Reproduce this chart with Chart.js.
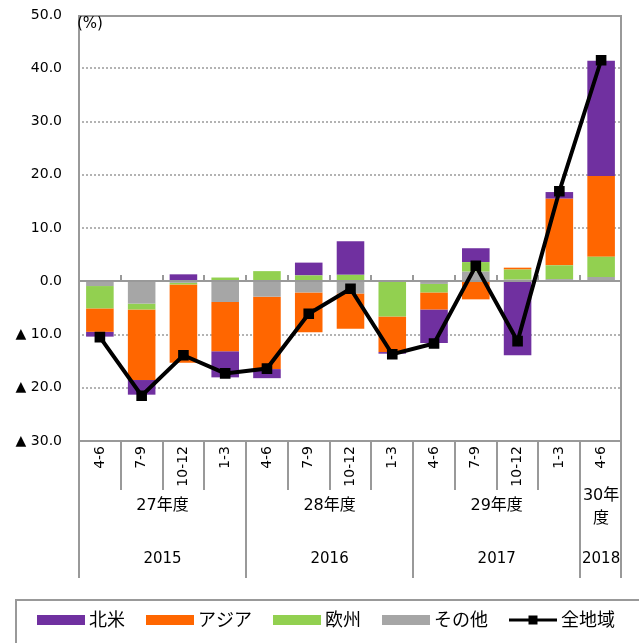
<!DOCTYPE html>
<html>
<head>
<meta charset="utf-8">
<script src="https://cdn.jsdelivr.net/npm/chart.js@4"></script>
<style>
  html, body { margin: 0; padding: 0; background: #ffffff; }
  #wrap { width: 639px; height: 643px; position: relative; }
</style>
</head>
<body>
<div id="wrap"><canvas id="c"></canvas></div>
<script>
// ---- data ----
const quarters = ['4-6', '7-9', '10-12', '1-3', '4-6', '7-9', '10-12', '1-3', '4-6', '7-9', '10-12', '1-3', '4-6'];
const fiscalYears = ['27年度', '28年度', '29年度', '30年度'];
const fiscalSpans = [4, 4, 4, 1];
const calendarYears = ['2015', '2016', '2017', '2018'];

const northAmerica = [-0.9, -2.75, 1.3, -4.9, -1.7, 2.4, 6.3, -0.3, -6.3, 2.6, -13.9, 1.25, 21.65];
const asia         = [-4.4, -13.25, -14.7, -9.25, -13.6, -7.5, -6.6, -6.7, -3.2, -3.4, 0.35, 12.5, 15.15];
const europe       = [-4.2, -1.1, -0.3, 0.7, 1.9, 1.1, 1.2, -6.6, -1.6, 1.8, 1.9, 2.6, 3.8];
const others       = [-0.9, -4.2, -0.3, -3.9, -2.9, -2.1, -2.3, 0, -0.5, 1.8, 0.3, 0.4, 0.8];
const allRegions   = [-10.5, -21.5, -13.9, -17.3, -16.4, -6.1, -1.4, -13.7, -11.7, 2.9, -11.25, 16.9, 41.5];

const yMin = -30, yMax = 50, yStep = 10;
const unitLabel = '(%)';

// ---- styles ----
const NUM_FONT = '"DejaVu Sans", "Noto Sans CJK JP", sans-serif';
const JP_FONT = '"DejaVu Sans", "Noto Sans CJK JP", sans-serif';
const AXIS_COLOR = '#999999';

function boundary(xs, i, n) {
  if (i <= 0) return xs.getPixelForValue(0) - (xs.getPixelForValue(1) - xs.getPixelForValue(0)) / 2;
  if (i >= n) return xs.getPixelForValue(n - 1) + (xs.getPixelForValue(n - 1) - xs.getPixelForValue(n - 2)) / 2;
  return (xs.getPixelForValue(i - 1) + xs.getPixelForValue(i)) / 2;
}

function drawGridLines(chart) {
  const {ctx, chartArea: {left, right}, scales: {y}} = chart;
  ctx.save();
  ctx.strokeStyle = '#b3b3b3';
  ctx.lineWidth = 2;
  ctx.setLineDash([2, 2]);
  for (let v = yMin + yStep; v < yMax; v += yStep) {
    if (v === 0) continue;
    const py = Math.round(y.getPixelForValue(v));
    ctx.beginPath(); ctx.moveTo(left + 3, py); ctx.lineTo(right - 1, py); ctx.stroke();
  }
  ctx.restore();
}

// solid frame segments drawn as filled rectangles (2px thick)
function hBar(ctx, x1, x2, yy) { ctx.fillRect(Math.round(x1), Math.round(yy) - 1, Math.round(x2 - x1), 2); }
function vBar(ctx, xx, y1, y2) { ctx.fillRect(Math.round(xx) - 1, Math.round(y1), 2, Math.round(y2 - y1)); }

const framePlugin = {
  id: 'framePlugin',
  beforeDatasetsDraw(chart) { drawGridLines(chart); },
  beforeDatasetDraw(chart, args) {
    if (args.meta.type !== 'line') return;
    const {ctx, chartArea: {left, right, top, bottom}, scales: {x, y}} = chart;
    const n = quarters.length;
    const y0 = y.getPixelForValue(0);
    const groupBottom = bottom + 137;
    ctx.save();
    ctx.fillStyle = AXIS_COLOR;
    for (let i = 1; i < n; i++) vBar(ctx, boundary(x, i, n), y0 - 6, y0);
    hBar(ctx, left, right, y0);
    hBar(ctx, left, right, top + 1);
    hBar(ctx, left, right, bottom);
    vBar(ctx, left, top, groupBottom);
    vBar(ctx, right - 1, top, groupBottom);
    for (let i = 1; i < n; i++) vBar(ctx, boundary(x, i, n), bottom, bottom + 49);
    let acc = 0;
    for (let g = 0; g < fiscalSpans.length - 1; g++) {
      acc += fiscalSpans[g];
      vBar(ctx, boundary(x, acc, n), bottom, groupBottom);
    }
    ctx.restore();
  },
  afterDraw(chart) {
    const {ctx, chartArea: {left, top, bottom}, scales: {x}} = chart;
    const n = quarters.length;
    ctx.save();
    ctx.fillStyle = '#000';
    ctx.font = '15px ' + NUM_FONT;
    ctx.textAlign = 'left';
    ctx.textBaseline = 'middle';
    ctx.fillText(unitLabel, left - 2, top + 9);
    ctx.textAlign = 'center';
    let start = 0;
    for (let g = 0; g < fiscalYears.length; g++) {
      const end = start + fiscalSpans[g];
      const x1 = boundary(x, start, n), x2 = boundary(x, end, n);
      const cx = (x1 + x2) / 2;
      const avail = x2 - x1 - 2;
      ctx.font = '16px ' + JP_FONT;
      const label = fiscalYears[g];
      if (ctx.measureText(label).width <= avail) {
        ctx.fillText(label, cx, bottom + 65);
      } else {
        let k = label.length - 1;
        while (k > 1 && ctx.measureText(label.slice(0, k)).width > avail) k--;
        ctx.fillText(label.slice(0, k), cx, bottom + 55);
        ctx.fillText(label.slice(k), cx, bottom + 78);
      }
      ctx.font = '15px ' + NUM_FONT;
      ctx.fillText(calendarYears[g], cx, bottom + 118);
      start = end;
    }
    // legend frame
    ctx.fillStyle = AXIS_COLOR;
    hBar(ctx, 15, 639, 600);
    vBar(ctx, 16, 600, 643);
    // legend items
    const legendOrder = [3, 2, 1, 0, 4];
    let lx = 37;
    const ly = 620;
    ctx.font = '18px ' + JP_FONT;
    ctx.textAlign = 'left';
    ctx.textBaseline = 'middle';
    legendOrder.forEach(idx => {
      const ds = chart.data.datasets[idx];
      const w = 48;
      if (ds.type === 'line') {
        ctx.fillStyle = ds.borderColor;
        ctx.fillRect(lx, ly - 1.5, w, 3);
        ctx.fillRect(lx + w / 2 - 4.5, ly - 4.5, 9, 9);
      } else {
        ctx.fillStyle = ds.backgroundColor;
        ctx.fillRect(lx, ly - 5, w, 10);
      }
      ctx.fillStyle = '#000';
      ctx.fillText(ds.label, lx + w + 4, ly + 1);
      lx += w + 4 + ctx.measureText(ds.label).width + 21;
    });
    ctx.restore();
  }
};

const barCommon = { stack: 'regions', order: 1, borderWidth: 0, categoryPercentage: 1.0, barPercentage: 0.66 };

new Chart(document.getElementById('c'), {
  type: 'bar',
  data: {
    labels: quarters,
    datasets: [
      Object.assign({ label: 'その他', data: others, backgroundColor: '#a6a6a6' }, barCommon),
      Object.assign({ label: '欧州', data: europe, backgroundColor: '#92d050' }, barCommon),
      Object.assign({ label: 'アジア', data: asia, backgroundColor: '#ff6600' }, barCommon),
      Object.assign({ label: '北米', data: northAmerica, backgroundColor: '#7030a0' }, barCommon),
      {
        type: 'line', label: '全地域', data: allRegions, stack: 'total', order: 0,
        borderColor: '#000000', backgroundColor: '#000000', borderWidth: 4,
        pointStyle: 'rect', pointRadius: 7.5, pointHoverRadius: 7.5,
        pointBackgroundColor: '#000000', pointBorderWidth: 0, tension: 0, fill: false
      }
    ]
  },
  options: {
    responsive: true,
    maintainAspectRatio: false,
    animation: false,
    devicePixelRatio: 1,
    layout: { padding: { top: 15, right: 17, bottom: 0, left: 0 } },
    plugins: { legend: { display: false }, tooltip: { enabled: false } },
    scales: {
      x: {
        stacked: true,
        offset: true,
        grid: { display: false, drawTicks: false },
        border: { display: false },
        ticks: {
          autoSkip: false, minRotation: 90, maxRotation: 90, padding: 5,
          color: '#000', font: { family: NUM_FONT, size: 14 }
        },
        afterFit(scale) { scale.height = 202; }
      },
      y: {
        stacked: true,
        min: yMin, max: yMax,
        grid: { display: false, drawTicks: true, tickLength: 17 },
        border: { display: false },
        ticks: {
          stepSize: yStep, padding: 0, color: '#000',
          font: { family: NUM_FONT, size: 14 },
          callback: (v) => v < 0 ? '▲ ' + Math.abs(v).toFixed(1) : Number(v).toFixed(1)
        },
        afterFit(scale) { scale.width = 79; }
      }
    }
  },
  plugins: [framePlugin]
});
</script>
</body>
</html>
